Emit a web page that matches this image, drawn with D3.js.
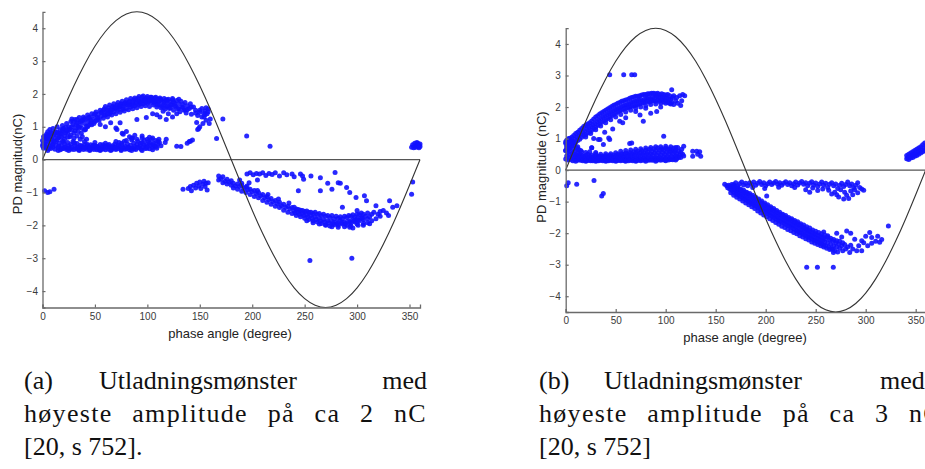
<!DOCTYPE html>
<html><head><meta charset="utf-8">
<script src="https://cdn.jsdelivr.net/npm/d3@7"></script>
<style>body{margin:0;background:#fff}svg{display:block}</style>
</head><body>
<svg id="c" width="925" height="469"></svg>
<script>
// ---------- ticks ----------
const xTicks = [0,50,100,150,200,250,300,350];
const yTicks = [-4,-3,-2,-1,0,1,2,3,4];

// ---------- reference sine (read every 10 degrees) ----------
const sineDeg = [0,10,20,30,40,50,60,70,80,90,100,110,120,130,140,150,160,170,180,190,200,210,220,230,240,250,260,270,280,290,300,310,320,330,340,350,360];
const sineVal = [0,0.78,1.54,2.25,2.89,3.45,3.9,4.23,4.43,4.5,4.43,4.23,3.9,3.45,2.89,2.25,1.54,0.78,0,-0.78,-1.54,-2.25,-2.89,-3.45,-3.9,-4.23,-4.43,-4.5,-4.43,-4.23,-3.9,-3.45,-2.89,-2.25,-1.54,-0.78,0];

// ---------- panel (a) points [phase deg, nC] ----------
const aLower = [[0,0.42],[0,0.58],[1,0.35],[1,0.7],[2,0.5],[3,0.38],[3,0.64],[4,0.47],[5,0.33],[5,0.56],[6,0.74],[7,0.41],[8,0.52],[8,0.34],[9,0.62],[10,0.38],[10,0.47],[11,0.56],[12,0.32],[13,0.44],[14,0.6],[15,0.36],[16,0.5],[17,0.3],[18,0.43],[19,0.57],[20,0.34],[21,0.48],[22,0.39],[23,0.31],[24,0.52],[25,0.42],[26,0.33],[27,0.46],[28,0.37],[29,0.55],[30,0.31],[31,0.42],[32,0.35],[33,0.49],[34,0.38],[35,0.3],[36,0.44],[37,0.34],[38,0.4],[39,0.31],[40,0.46],[41,0.36],[42,0.32],[43,0.42],[44,0.37],[45,0.3],[46,0.45],[47,0.34],[48,0.39],[49,0.31],[50,0.43],[51,0.35],[52,0.3],[53,0.4],[54,0.34],[55,0.46],[56,0.31],[57,0.38],[58,0.33],[59,0.42],[60,0.3],[61,0.37],[62,0.44],[63,0.32],[64,0.39],[65,0.35],[66,0.3],[67,0.42],[68,0.36],[69,0.48],[70,0.31],[71,0.4],[72,0.34],[73,0.52],[74,0.38],[75,0.31],[76,0.45],[77,0.36],[78,0.56],[79,0.4],[80,0.33],[81,0.48],[82,0.38],[83,0.3],[84,0.44],[85,0.6],[86,0.35],[87,0.5],[88,0.4],[89,0.31],[90,0.46],[91,0.56],[92,0.36],[93,0.42],[94,0.32],[95,0.52],[96,0.38],[97,0.6],[98,0.34],[99,0.47],[100,0.4],[101,0.55],[102,0.33],[103,0.44],[104,0.62],[105,0.37],[106,0.5],[107,0.41],[108,0.58],[109,0.35],[110,0.47],[111,0.62],[113,0.42],
[0.5,0.48],[2.5,0.4],[4.5,0.62],[6.5,0.36],[9.5,0.44],[12.5,0.55],[15.5,0.41],[18.5,0.33],[21.5,0.36],[24.5,0.35],[27.5,0.32],[30.5,0.5],[33.5,0.32],[36.5,0.4],[39.5,0.36],[42.5,0.47],[45.5,0.38],[48.5,0.44],[51.5,0.4],[54.5,0.3],[57.5,0.45],[60.5,0.41],[63.5,0.46],[66.5,0.38],[69.5,0.35],[72.5,0.44],[75.5,0.5],[78.5,0.32],[81.5,0.36],[84.5,0.35],[87.5,0.33],[90.5,0.38],[93.5,0.5],[96.5,0.46],[99.5,0.35],[102.5,0.5],[105.5,0.45],[108.5,0.4],[111.5,0.52],
[5,0.28],[15,0.28],[25,0.28],[35,0.28],[45,0.28],[55,0.28],[65,0.28],[75,0.28],[85,0.28],[95,0.28],[105,0.3],[20,0.55],[30,0.52],[40,0.55],[50,0.52],[60,0.5],[70,0.55],[80,0.58],[90,0.62],[100,0.62],[110,0.56],[85,0.65],[95,0.66],[105,0.66]];
const aUpper = [[3,0.66],[4,0.78],[5,0.85],[6,0.62],[7,0.92],[8,0.7],[9,0.8],[10,0.95],[11,0.66],[12,0.86],[13,0.74],[14,1.0],[15,0.8],[16,0.68],[17,0.92],[18,0.78],[19,1.04],[20,0.86],[21,0.72],[22,0.98],[23,1.1],[24,0.82],[25,1.0],[26,0.7],[27,1.16],[28,0.9],[29,1.06],[30,0.8],[31,1.22],[32,0.96],[33,1.12],[34,0.86],[35,1.28],[36,1.04],[37,1.18],[38,0.95],[39,1.3],[40,1.1],[41,1.22],[42,1.02],[43,1.36],[44,1.16],[45,1.28],[46,1.1],[47,1.4],[48,1.22],[49,1.34],[50,1.16],[51,1.45],[52,1.28],[53,1.38],[54,1.2],[55,1.5],[56,1.32],[57,1.44],[58,1.26],[59,1.55],[60,1.36],[61,1.48],[62,1.3],[63,1.58],[64,1.4],[65,1.52],[66,1.36],[67,1.62],[68,1.45],[69,1.56],[70,1.4],[71,1.66],[72,1.5],[73,1.6],[74,1.44],[75,1.7],[76,1.53],[77,1.64],[78,1.48],[79,1.74],[80,1.56],[81,1.68],[82,1.52],[83,1.78],[84,1.6],[85,1.7],[86,1.55],[87,1.82],[88,1.64],[89,1.74],[90,1.58],[91,1.86],[92,1.68],[93,1.78],[94,1.62],[95,1.9],[96,1.7],[97,1.8],[98,1.64],[99,1.88],[100,1.72],[101,1.82],[102,1.62],[103,1.9],[104,1.74],[105,1.84],[106,1.66],[107,1.88],[108,1.76],[109,1.6],[110,1.84],[111,1.7],[112,1.88],[113,1.58],[114,1.78],[115,1.66],[116,1.86],[117,1.54],[118,1.74],[119,1.64],[120,1.84],[121,1.56],[122,1.76],[123,1.66],[124,1.82],[125,1.5],[126,1.72],[127,1.62],[128,1.8],[129,1.55],[130,1.7],[131,1.46],[132,1.78],[133,1.6],[134,1.68],[135,1.5],[136,1.74],[137,1.42],[138,1.64],[140,1.56],[141,1.7],[142,1.38],[144,1.6],[146,1.5],[148,1.34],[150,1.44],[152,1.56],[154,1.3],[155,1.48],[156,1.2],[157,1.4],[158,1.54],[159,1.1],
[2,0.72],[5,0.74],[8,0.82],[11,0.78],[14,0.84],[17,0.8],[20,0.95],[23,0.88],[26,0.94],[29,1.18],[32,1.08],[35,0.98],[38,1.2],[41,0.92],[44,1.28],[47,1.06],[50,1.4],[53,1.26],[56,1.44],[59,1.36],[62,1.5],[65,1.44],[68,1.58],[71,1.54],[74,1.62],[77,1.56],[80,1.68],[83,1.66],[86,1.76],[89,1.82],[92,1.76],[95,1.8],[98,1.84],[101,1.76],[104,1.8],[107,1.72],[110,1.76],[113,1.82],[116,1.74],[119,1.8],[122,1.68],[125,1.76],
[60,1.62],[64,1.66],[68,1.7],[72,1.74],[76,1.78],[80,1.82],[84,1.86],[88,1.88],[92,1.92],[96,1.94],[100,1.92],[104,1.9],[108,1.9],[112,1.84],[118,1.82],[124,1.86],[130,1.84],[58,1.5],[62,1.4],[66,1.5],[70,1.6],[74,1.66],[78,1.7],[82,1.74],[86,1.66],[90,1.7],[94,1.72],[98,1.76],[102,1.82],[106,1.78],[110,1.66],[114,1.62],[118,1.6],[122,1.58],[126,1.64],[130,1.56],[134,1.58],[138,1.52],[142,1.6],[146,1.42],[150,1.5],[154,1.42],[158,1.46],[156,1.58],[152,1.3]];
const aFill = [[15,0.66],[18,0.7],[21,0.62],[24,0.68],[27,0.75],[30,0.65],[33,0.72],[36,0.62],[19,0.9],[22,0.82],[25,0.9],[28,1.0],[31,0.88],[34,1.0],[37,0.8],[40,0.9],[43,1.0],[46,1.2],[49,1.1],[52,1.2],[36,1.15],[40,1.25],[44,1.05],[33,1.22],[28,1.24],[38,0.7],[42,0.62],
[55,1.07],[60,1.0],[65,1.12],[70,0.96],[71,0.92],[74,1.12],[76,0.8],[77,0.77],[80,0.86],[83,0.7],[86,0.66],[88,0.74],[90,1.22],[95,0.72],[99,1.28],[102,0.68],[105,1.4],[109,1.37],[112,1.3],[115,1.47],[118,1.22],[120,1.4],[124,1.3],[128,1.4],[136,1.52],[147,1.13],[148,0.92],[150,1.0],[155,1.37],[160,1.24],[172,1.24],[166,0.64],[140,0.55],[143,0.6],[128,0.41],[132,0.4],[117,0.52],[118,0.62],[138,0.5],[141,0.56],[194.7,0.72],[217,0.41],[149,0.95],[153,1.1]];
const aEdge = [[2,-0.95],[5,-1.0],[7,-0.98],[11,-0.9],[352,0.38],[353,0.45],[354,0.36],[355,0.5],[355,0.42],[356,0.38],[357,0.52],[357,0.45],[358,0.4],[358,0.5],[359,0.44],[359,0.36],[360,0.48],[360,0.4],[353,-0.68],[352,-1.05]];
const aNegMid = [[134,-0.9],[139,-0.88],[141,-0.82],[142,-0.95],[144,-0.78],[146,-0.86],[147,-0.72],[149,-0.8],[150,-0.68],[151,-0.88],[153,-0.75],[154,-0.66],[155,-0.82],[156,-0.72],[157,-0.92],[158,-0.7]];
const aNegBand = [[168,-0.5],[168,-0.62],[170,-0.58],[172,-0.7],[172,-0.52],[174,-0.66],[176,-0.74],[176,-0.6],[178,-0.68],[180,-0.78],[180,-0.64],[182,-0.72],[182,-0.86],[184,-0.8],[186,-0.74],[186,-0.9],[188,-0.82],[190,-0.96],[190,-0.78],[192,-0.88],[194,-1.0],[194,-0.84],[196,-0.92],[198,-1.06],[198,-0.9],[200,-0.98],[202,-1.12],[202,-0.94],[204,-1.04],[206,-1.16],[206,-1.0],[208,-1.1],[210,-1.24],[210,-1.06],[212,-1.16],[214,-1.3],[214,-1.12],[216,-1.22],[218,-1.36],[218,-1.18],[220,-1.28],[222,-1.42],[222,-1.24],[224,-1.34],[226,-1.46],[226,-1.3],[228,-1.4],[230,-1.54],[230,-1.36],[232,-1.46],[234,-1.6],[234,-1.42],[236,-1.5],[238,-1.64],[238,-1.46],[240,-1.56],[242,-1.7],[242,-1.5],[244,-1.6],[246,-1.74],[246,-1.54],[248,-1.64],[250,-1.78],[250,-1.58],[252,-1.68],[254,-1.82],[254,-1.6],[256,-1.7],[258,-1.86],[258,-1.64],[260,-1.74],[262,-1.9],[262,-1.66],[264,-1.78],[266,-1.94],[266,-1.7],[268,-1.82],[270,-1.98],[270,-1.72],[272,-1.86],[274,-2.02],[274,-1.76],[276,-1.88],[278,-1.98],[278,-1.8],[280,-1.9],[282,-2.0],[282,-1.78],[284,-1.86],[286,-1.96],[286,-1.8],[288,-1.9],[290,-1.76],[290,-2.0],[292,-1.86],[294,-1.72],[294,-1.94],[296,-1.82],[298,-1.74],[298,-1.9],[300,-1.8],[302,-1.68],[302,-1.86],[304,-1.76],[306,-1.66],[306,-1.84],[308,-1.72],[310,-1.62],[310,-1.8],[312,-1.74],[314,-1.66],
[241,-1.62],[245,-1.66],[249,-1.7],[253,-1.74],[257,-1.78],[261,-1.82],[265,-1.86],[269,-1.9],[273,-1.92],[277,-1.94],[281,-1.94],[285,-1.92],[289,-1.94],[293,-1.9],[297,-1.86],[301,-1.84],[305,-1.78],[190,-0.72],[195,-0.8],[205,-0.94],[215,-1.06],[225,-1.2],[235,-1.32],
[240,-1.45],[244,-1.52],[248,-1.55],[252,-1.56],[256,-1.6],[260,-1.6],[264,-1.64],[268,-1.66],[272,-1.7],[276,-1.7],[280,-1.72],[284,-1.74],[288,-1.72],[292,-1.7],[296,-1.68],[300,-1.66],[304,-1.62],[252,-1.86],[258,-1.92],[264,-1.96],[270,-2.0],[276,-2.04],[282,-2.06],[288,-2.04],[294,-2.02],[300,-1.96],[306,-1.94],[310,-1.92],[314,-1.86],[318,-1.8],[322,-1.72],[316,-1.6],[320,-1.66]];
const aNegScatter = [[195,-0.44],[198,-0.4],[201,-0.46],[204,-0.42],[207,-0.44],[210,-0.4],[213,-0.48],[216,-0.42],[219,-0.45],[222,-0.4],[226,-0.5],[230,-0.4],[233,-0.46],[238,-0.44],[240,-0.52],[246,-0.44],[248,-0.5],[249,-0.6],[256,-0.5],[265,-0.55],[279,-0.39],[265,-0.95],[272,-0.72],[276,-0.9],[282,-0.7],[284,-0.72],[290,-0.85],[293,-1.0],[299,-1.15],[307,-1.1],[309,-1.25],[318,-1.4],[322,-1.58],[325,-1.55],[328,-1.62],[331,-1.25],[334,-1.45],[338,-1.4],[330,-1.7],[312,-1.95],[306,-2.0],[296,-2.08],[293,-2.06],[301,-2.0],[255,-3.07],[295,-3.0],[188,-0.62],[197,-0.7],[205,-0.62],[244,-0.95],[286,-1.45],[300,-1.55]];

// ---------- panel (b) points [phase deg, nC] ----------
const bLower = [[0,0.35],[0,0.62],[0,0.85],[1,0.45],[1,0.72],[2,0.32],[2,0.56],[2,0.8],[3,0.4],[3,0.66],[4,0.5],[4,0.9],[5,0.34],[5,0.6],[6,0.44],[6,0.76],[7,0.3],[7,0.54],[8,0.4],[8,0.68],[9,0.33],[9,0.5],[10,0.42],[10,0.62],[11,0.31],[11,0.48],[12,0.38],[12,0.56],[13,0.32],[13,0.45],[14,0.36],[14,0.5],[15,0.31],[15,0.42],[16,0.35],[16,0.47],[17,0.3],[17,0.4],[18,0.34],[18,0.44],[19,0.31],[19,0.38],[20,0.35],[20,0.46],[21,0.3],[21,0.4],[22,0.34],[22,0.5],[23,0.31],[23,0.38],[24,0.35],[24,0.44],[25,0.3],[25,0.4],[26,0.33],[26,0.48],[27,0.3],[27,0.38],[28,0.35],[28,0.43],[29,0.31],[29,0.4],[30,0.34],[30,0.46],[31,0.3],[31,0.38],[32,0.33],[32,0.42],[33,0.3],[33,0.37],[34,0.34],[34,0.45],[35,0.31],[35,0.39],[36,0.35],[36,0.42],[37,0.3],[37,0.38],[38,0.33],[38,0.44],[39,0.31],[39,0.4],[40,0.35],[40,0.46],[41,0.3],[41,0.38],[42,0.33],[42,0.43],[43,0.3],[43,0.4],[44,0.34],[44,0.47],[45,0.31],[45,0.38],[46,0.35],[46,0.44],[47,0.3],[47,0.4],[48,0.34],[48,0.48],[49,0.31],[49,0.39],[50,0.35],[50,0.45],[51,0.3],[51,0.4],[52,0.33],[52,0.5],[53,0.31],[53,0.42],[54,0.35],[54,0.47],[55,0.3],[55,0.39],[56,0.34],[56,0.52],[57,0.31],[57,0.44],[58,0.36],[58,0.5],[59,0.3],[59,0.41],[60,0.34],[60,0.54],[61,0.31],[61,0.45],[62,0.36],[62,0.5],[63,0.3],[63,0.42],[64,0.35],[64,0.56],[65,0.31],[65,0.47],[66,0.36],[66,0.52],[67,0.3],[67,0.43],[68,0.35],[68,0.58],[69,0.32],[69,0.48],[70,0.37],[70,0.54],[71,0.3],[71,0.44],[72,0.35],[72,0.6],[73,0.32],[73,0.49],[74,0.37],[74,0.55],[75,0.3],[75,0.45],[76,0.35],[76,0.62],[77,0.32],[77,0.5],[78,0.38],[78,0.56],[79,0.31],[79,0.46],[80,0.35],[80,0.64],[81,0.32],[81,0.51],[82,0.38],[82,0.58],[83,0.31],[83,0.47],[84,0.36],[84,0.66],[85,0.32],[85,0.52],[86,0.39],[86,0.6],[87,0.31],[87,0.48],[88,0.36],[88,0.68],[89,0.33],[89,0.54],[90,0.4],[90,0.62],[91,0.31],[91,0.48],[92,0.37],[92,0.7],[93,0.33],[93,0.55],[94,0.41],[94,0.63],[95,0.31],[95,0.49],[96,0.37],[96,0.68],[97,0.33],[97,0.56],[98,0.42],[98,0.64],[99,0.32],[99,0.5],[100,0.38],[100,0.7],[101,0.34],[101,0.57],[102,0.43],[102,0.65],[103,0.32],[103,0.51],[104,0.38],[104,0.68],[105,0.34],[105,0.58],[106,0.44],[106,0.62],[107,0.33],[107,0.52],[108,0.4],[108,0.7],[109,0.35],[109,0.58],[110,0.45],[110,0.64],[111,0.36],[111,0.52],[112,0.42],[112,0.72],[113,0.4],[113,0.6],[114,0.48],[115,0.56],[115,0.4],[116,0.66],[117,0.5],[118,0.45],[118,0.76],[134,0.58],[135,0.44],[131,0.6],[127,0.6],
[1,0.95],[3,1.0],[5,0.82],[7,0.9],[9,0.78],[11,0.7],[13,0.65],[15,0.62],[4,0.7],[8,0.88],[12,0.74],[16,0.58],[20,0.56],[24,0.58],[26,0.71],[30,0.56],
[50,0.55],[55,0.6],[60,0.62],[65,0.64],[70,0.66],[75,0.68],[80,0.7],[85,0.72],[90,0.74],[95,0.74],[100,0.76],[105,0.74],[110,0.72],[45,0.52],[40,0.52],[35,0.5],[30,0.52],[10,0.28],[20,0.28],[30,0.28],[40,0.28],[50,0.28],[60,0.28],[70,0.28],[80,0.28],[90,0.28],[100,0.3],[110,0.32]];
const bUpper = [[0,0.62],[0,0.9],[1,0.78],[2,0.68],[2,0.95],[3,0.82],[4,0.74],[4,1.0],[5,0.88],[6,0.78],[6,1.04],[7,0.92],[8,0.84],[8,1.1],[9,0.98],[10,0.88],[10,1.16],[11,1.04],[12,0.94],[12,1.2],[13,1.08],[14,0.98],[14,1.26],[15,1.14],[16,1.04],[16,1.32],[17,1.2],[18,1.1],[18,1.38],[19,1.24],[20,1.12],[20,1.42],[21,1.3],[22,1.18],[22,1.46],[23,1.34],[24,1.22],[24,1.5],[25,1.38],[26,1.26],[26,1.56],[27,1.44],[28,1.32],[28,1.62],[29,1.48],[30,1.36],[30,1.68],[31,1.54],[32,1.42],[32,1.72],[33,1.58],[34,1.46],[34,1.78],[35,1.64],[36,1.52],[36,1.82],[37,1.68],[38,1.56],[38,1.86],[39,1.72],[40,1.6],[40,1.9],[41,1.76],[42,1.64],[42,1.94],[43,1.8],[44,1.68],[44,1.98],[45,1.84],[46,1.72],[46,2.02],[47,1.88],[48,1.76],[48,2.06],[49,1.92],[50,1.8],[50,2.08],[51,1.94],[52,1.84],[52,2.12],[53,1.98],[54,1.88],[54,2.14],[55,2.0],[56,1.9],[56,2.18],[57,2.04],[58,1.94],[58,2.2],[59,2.06],[60,1.96],[60,2.22],[61,2.08],[62,1.98],[62,2.24],[63,2.1],[64,2.0],[64,2.28],[65,2.14],[66,2.02],[66,2.3],[67,2.16],[68,2.04],[68,2.32],[69,2.18],[70,2.06],[70,2.34],[71,2.2],[72,2.08],[72,2.34],[73,2.22],[74,2.1],[74,2.36],[75,2.24],[76,2.12],[76,2.38],[77,2.2],[78,2.14],[78,2.4],[79,2.26],[80,2.16],[80,2.4],[81,2.28],[82,2.18],[82,2.42],[83,2.3],[84,2.16],[84,2.42],[85,2.26],[86,2.2],[86,2.44],[87,2.32],[88,2.2],[88,2.44],[89,2.3],[90,2.18],[90,2.42],[91,2.34],[92,2.22],[92,2.44],[93,2.3],[94,2.18],[94,2.4],[95,2.32],[96,2.22],[96,2.42],[97,2.28],[98,2.16],[98,2.4],[99,2.3],[100,2.2],[100,2.38],[101,2.28],[102,2.14],[102,2.4],[103,2.26],[104,2.12],[104,2.36],[105,2.24],[106,2.55],[106,2.14],[107,2.3],[108,2.08],[108,2.36],[110,2.2],[111,2.3],[112,2.12],[114,2.36],[116,2.2],[117,2.4],[119,2.36],[115,2.05],
[20,1.05],[25,1.16],[30,1.28],[35,1.4],[40,1.5],[45,1.6],[50,1.68],[55,1.76],[60,1.84],[65,1.9],[70,1.96],[75,2.0],[80,2.04],[85,2.08],[90,2.1],[95,2.12],[100,2.12],[105,2.1]];
const bInterior = [[32.7,0.97],[34.3,0.97],[37.7,0.81],[44,0.97],[43,1.02],[54,1.55],[64,0.84],[66,0.86],[77.6,1.55],[98,1.07],[26,0.71],[91,1.86],[85,1.8],[74.3,1.75],[47,1.3],[60,1.66],[70,1.86],[80,1.96],[95,2.0],[57,1.5],[39,1.2],[28,1.0],
[44,3.02],[58,3.02],[66,3.02],[69,3.02],[1,-0.5],[2.5,-0.4],[11,-0.45],[28.3,-0.33],[36,-0.82],[37.6,-0.74],[127,0.44],[132,0.5]];
const bEnd = [[341,0.36],[341,0.46],[342,0.4],[343,0.34],[343,0.5],[344,0.42],[345,0.38],[345,0.54],[346,0.46],[347,0.4],[347,0.58],[348,0.5],[349,0.44],[349,0.62],[350,0.52],[351,0.46],[351,0.66],[352,0.56],[353,0.5],[353,0.7],[354,0.6],[355,0.54],[355,0.74],[356,0.64],[357,0.58],[357,0.8],[358,0.7],[359,0.62],[359,0.86],[360,0.76]];
const bNegBand = [[159,-0.45],[161,-0.5],[162,-0.56],[163,-0.48],[164,-0.6],[165,-0.52],[166,-0.64],[167,-0.56],[168,-0.7],[168,-0.5],[169,-0.62],[170,-0.74],[170,-0.56],[171,-0.66],[172,-0.78],[172,-0.6],[173,-0.7],[174,-0.82],[174,-0.62],[175,-0.74],[176,-0.86],[176,-0.66],[177,-0.78],[178,-0.9],[178,-0.7],[179,-0.82],[180,-0.94],[180,-0.72],[181,-0.86],[182,-0.98],[182,-0.76],[183,-0.9],[184,-1.02],[184,-0.8],[185,-0.94],[186,-1.06],[186,-0.84],[187,-0.98],[188,-1.1],[188,-0.88],[189,-1.02],[190,-1.14],[190,-0.92],[191,-1.06],[192,-1.18],[192,-0.96],[193,-1.1],[194,-1.22],[194,-1.0],[195,-1.14],[196,-1.26],[196,-1.04],[197,-1.18],[198,-1.3],[198,-1.08],[199,-1.22],[200,-1.34],[200,-1.12],[201,-1.26],[202,-1.38],[202,-1.16],[203,-1.3],[204,-1.42],[204,-1.2],[205,-1.34],[206,-1.46],[206,-1.24],[207,-1.38],[208,-1.5],[208,-1.28],[209,-1.42],[210,-1.54],[210,-1.32],[211,-1.46],[212,-1.58],[212,-1.36],[213,-1.5],[214,-1.62],[214,-1.4],[215,-1.52],[216,-1.64],[216,-1.42],[217,-1.56],[218,-1.68],[218,-1.46],[219,-1.6],[220,-1.72],[220,-1.5],[221,-1.62],[222,-1.76],[222,-1.54],[223,-1.66],[224,-1.78],[224,-1.56],[225,-1.7],[226,-1.82],[226,-1.6],[227,-1.74],[228,-1.86],[228,-1.64],[229,-1.76],[230,-1.9],[230,-1.66],[231,-1.8],[232,-1.94],[232,-1.7],[233,-1.84],[234,-1.98],[234,-1.74],[235,-1.88],[236,-2.0],[236,-1.78],[237,-1.9],[238,-2.04],[238,-1.82],[239,-1.94],[240,-2.08],[240,-1.86],[241,-1.98],[242,-2.12],[242,-1.9],[243,-2.02],[244,-2.14],[244,-1.92],[245,-2.06],[246,-2.18],[246,-1.96],[247,-2.08],[248,-2.22],[248,-2.0],[249,-2.12],[250,-2.24],[250,-2.02],[251,-2.16],[252,-2.28],[252,-2.06],[253,-2.18],[254,-2.3],[254,-2.08],[255,-2.22],[256,-2.34],[256,-2.12],[257,-2.24],[258,-2.38],[258,-2.14],[259,-2.28],[260,-2.4],[260,-2.18],[262,-2.3],[263,-2.44],[264,-2.22],[265,-2.36],[266,-2.5],[267,-2.26],[268,-2.4],[269,-2.56],[270,-2.3],[271,-2.44],[272,-2.6],[273,-2.34],[274,-2.48],[276,-2.4],[277,-2.56],[279,-2.36],[280,-2.5],[281,-1.93],[282,-2.44],[284,-2.61],[285,-2.38],[287,-2.5],[289,-2.19],[291,-2.56],[293,-2.4],[296,-2.56],[298,-2.3],[300,-2.1],[304,-1.98],[306,-2.14],[310,-2.26],[314,-2.29],[312,-2.1],[316,-2.2],[322.7,-1.77],[267.7,-2.61],[271,-2.0],[262,-2.08],[258,-1.96],[276,-2.12],[285,-2.0],[296,-2.24],[302,-2.4],[306,-2.32],[201,-0.82],
[241,-3.08],[251.7,-3.08],[267.6,-3.08],
[165,-0.72],[168,-0.8],[171,-0.86],[174,-0.92],[177,-0.98],[180,-1.04],[183,-1.1],[186,-1.16],[189,-1.22],[192,-1.3],[195,-1.36],[198,-1.42],[201,-1.48],[204,-1.54],[207,-1.6],[210,-1.66],[213,-1.72],[216,-1.78],[219,-1.82],[222,-1.88],[225,-1.92],[228,-1.98],[231,-2.02],[234,-2.08],[237,-2.12],[240,-2.18],[243,-2.22],[246,-2.28],[249,-2.32],[252,-2.36],[255,-2.4],[258,-2.44],[261,-2.48],[264,-2.52],[267,-2.5],
[166,-0.46],[169,-0.52],[172,-0.56],[175,-0.6],[178,-0.64],[181,-0.7],[184,-0.74],[187,-0.8],[190,-0.86],[193,-0.92],[196,-0.98],[199,-1.04],[202,-1.1],[205,-1.16],[208,-1.22],[211,-1.28],[214,-1.34],[217,-1.4],[220,-1.44],[223,-1.5],[226,-1.54],[229,-1.6],[232,-1.64],[235,-1.7],[238,-1.74],[241,-1.8],[244,-1.84],[247,-1.9],[250,-1.94],[253,-1.98],[256,-2.02],[259,-2.06],[262,-2.12],[265,-2.16],[268,-2.2],[271,-2.24],[274,-2.26],[277,-2.3]];
const bNegUpper = [[168,-0.46],[170,-0.4],[172,-0.5],[174,-0.43],[176,-0.38],[178,-0.47],[180,-0.42],[182,-0.5],[184,-0.4],[186,-0.45],[188,-0.38],[190,-0.48],[192,-0.42],[194,-0.36],[196,-0.46],[198,-0.4],[200,-0.5],[202,-0.43],[204,-0.38],[206,-0.46],[208,-0.41],[210,-0.36],[212,-0.45],[214,-0.4],[216,-0.48],[218,-0.42],[220,-0.37],[222,-0.46],[224,-0.4],[226,-0.5],[228,-0.43],[230,-0.38],[232,-0.47],[234,-0.41],[236,-0.36],[238,-0.45],[240,-0.4],[242,-0.5],[244,-0.42],[246,-0.37],[248,-0.47],[250,-0.41],[252,-0.52],[254,-0.44],[256,-0.38],[258,-0.48],[260,-0.42],[262,-0.55],[264,-0.45],[266,-0.4],[268,-0.5],[270,-0.44],[272,-0.58],[274,-0.48],[276,-0.42],[278,-0.52],[280,-0.46],[282,-0.38],[284,-0.5],[286,-0.44],[288,-0.56],[290,-0.48],[292,-0.4],[294,-0.55],[296,-0.6],[298,-0.64],[187,-0.55],[199,-0.58],[213,-0.54],[229,-0.55],[247,-0.57],[257,-0.6],[263,-0.64],[269,-0.7],[271,-0.78],[273,-0.85],[275,-0.62],[279,-0.7],[283,-0.9],[285,-0.66],[287,-0.78],[289,-0.62],[278,-0.92],[266,-0.76],[244,-0.7],[252,-0.65],[240,-0.62],[292,-0.72],[281,-0.8]];

// ---------- captions ----------
const capA = {l1:["(a)","Utladningsmønster","med"], l2:"høyeste amplitude på ca 2 nC", l3:"[20, s 752]."};
const capB = {l1:["(b)","Utladningsmønster","med"], l2:"høyeste amplitude på ca 3 nC", l3:"[20, s 752]"};

const svg = d3.select("#c");
const DOT = "#1212ff";
const AX = "#6a6a6a";
const SANS = "'Liberation Sans', Arial, sans-serif";
const SERIF = "'Liberation Serif', 'Times New Roman', serif";
const CAPFS = 26;

function panel(cfg, sets, ylab){
  const g = svg.append("g");
  const x = d3.scaleLinear().domain([0,360]).range(cfg.xr);
  const y = d3.scaleLinear().domain([-4.5,4.5]).range(cfg.yr);
  const all = [].concat(...sets);
  g.append("g").selectAll("circle").data(all).join("circle")
    .attr("cx", d=>x(d[0])).attr("cy", d=>y(d[1])).attr("r", 2.5)
    .attr("fill", DOT).attr("fill-opacity", 0.9);
  g.append("line").attr("x1", x(0)).attr("x2", x(360)).attr("y1", y(0)).attr("y2", y(0))
    .attr("stroke", "#555").attr("stroke-width", 1.3);
  const line = d3.line().x((d,i)=>x(sineDeg[i])).y(d=>y(d)).curve(d3.curveNatural);
  g.append("path").attr("d", line(sineVal)).attr("fill","none").attr("stroke","#333").attr("stroke-width",1.1);
  const ax = g.append("g").attr("transform",`translate(0,${cfg.yr[0]})`)
    .call(d3.axisBottom(x).tickValues(xTicks).tickSize(-3).tickPadding(5).tickFormat(d3.format("d")));
  const ay = g.append("g").attr("transform",`translate(${cfg.xr[0]},0)`)
    .call(d3.axisLeft(y).tickValues(yTicks).tickSize(-3).tickPadding(cfg.ypad).tickFormat(d3.format("d")));
  [ax, ay].forEach(a=>{
    a.select(".domain").attr("stroke", AX).attr("stroke-width",1.3);
    a.selectAll(".tick line").attr("stroke", AX).attr("stroke-width",1.2);
    a.selectAll(".tick text").attr("font-family", SANS).attr("font-size", 10).attr("fill", "#3a3a3a");
  });
  g.append("text").attr("x", cfg.xlab[0]).attr("y", cfg.xlab[1]).attr("text-anchor","middle")
    .attr("font-family", SANS).attr("font-size", 13).attr("fill","#222").text("phase angle (degree)");
  g.append("text").attr("transform",`translate(${cfg.ylab[0]},${cfg.ylab[1]}) rotate(-90)`).attr("text-anchor","middle")
    .attr("font-family", SANS).attr("font-size", 13).attr("fill","#222").text(ylab);
}

panel({xr:[42.5,420], yr:[307.5,11.8], ypad:4.5, xlab:[230,338], ylab:[21.5,164]},
  [aLower,aUpper,aFill,aEdge,aNegMid,aNegBand,aNegScatter], "PD magnitud(nC)");
panel({xr:[565.7,925.7], yr:[312,28.2], ypad:5, xlab:[745,342], ylab:[546,167]},
  [bLower,bUpper,bInterior,bEnd,bNegBand,bNegUpper], "PD magnitude (nC)");

function caption(c, x0, xw, xm, mAnchor, w2, ys){
  const t = (x,y,s,anchor)=> svg.append("text").attr("x",x).attr("y",y).attr("font-family",SERIF)
      .attr("font-size",CAPFS).attr("fill","#111").attr("text-anchor",anchor||"start").text(s);
  t(x0, ys[0], c.l1[0]);
  t(xw, ys[0], c.l1[1]);
  t(xm, ys[0], c.l1[2], mAnchor);
  const l2 = t(x0, ys[1], c.l2).attr("letter-spacing", 1.3);
  const nat = l2.node().getComputedTextLength();
  const spaces = c.l2.split(" ").length - 1;
  l2.attr("word-spacing", Math.max(0,(w2 - nat)/spaces));
  t(x0, ys[2], c.l3);
}
caption(capA, 24, 99, 427, "end", 403, [389,422,455]);
caption(capB, 539, 604, 880, "start", 403, [389,422,455]);
</script>
</body></html>
